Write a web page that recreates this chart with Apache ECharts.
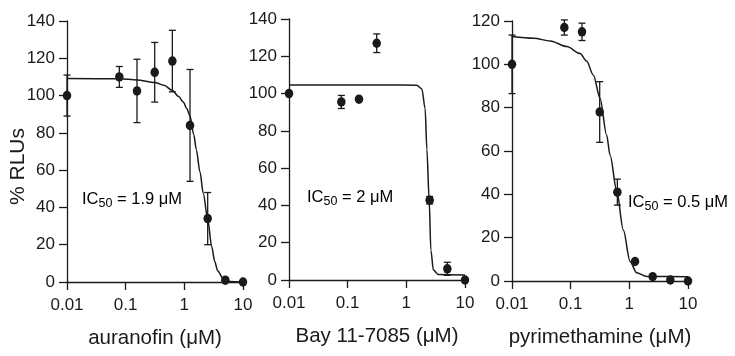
<!DOCTYPE html>
<html>
<head>
<meta charset="utf-8">
<script src="https://cdn.jsdelivr.net/npm/echarts@6/dist/echarts.min.js"></script>
<style>
  html, body { margin: 0; padding: 0; background: #fff; }
  #chart { width: 735px; height: 356px; }
</style>
</head>
<body>
<div id="chart"></div>
<script>
// concentrations (µM) for each drug
const concAll = [0.01, 0.078, 0.156, 0.3125, 0.625, 1.25, 2.5, 5, 10]
const concBay = [0.01, 0.078, 0.156, 0.3125, 2.5, 5, 10]

// % RLUs mean and +/- error
const auranofinMean = [100, 110, 102.5, 112.5, 118.5, 84, 34, 1, 0]
const auranofinErr = [11, 5.6, 17, 16, 16.5, 30, 14, 0, 0]
const bayMean = [100, 95.5, 97, 127, 42.8, 6, 0]
const bayErr = [0, 3.5, 0, 5, 2, 3.5, 0]
const pyriMean = [100, 117, 115, 78, 41, 9, 2, 0.5, 0]
const pyriErr = [13.5, 3.5, 4, 14, 6, 0, 0, 0, 0]

// fitted curves
const auranofinFitX = [0.01, 0.078, 0.156, 0.3125, 0.45, 0.625, 0.8, 0.96, 1.1, 1.25, 1.45, 1.6, 1.85, 2.1, 2.5, 2.93, 3.3, 3.7, 4.6, 6, 10]
const auranofinFitY = [109.2, 109, 108.4, 107, 105.5, 102.7, 99.5, 96.5, 93, 89, 79, 71, 59, 47.6, 33.7, 19, 11, 6, 1.8, 0.3, 0]
const bayFitX = [0.01, 0.5, 1.5, 1.84, 2.09, 2.24, 2.45, 2.62, 2.89, 3.5, 10]
const bayFitY = [104.6, 104.6, 104.5, 102.5, 92, 70, 43, 16, 5.3, 3, 2.7]
const pyriFitX = [0.01, 0.0234, 0.045, 0.086, 0.145, 0.187, 0.244, 0.317, 0.41, 0.47, 0.61, 0.79, 1.03, 1.33, 1.98, 10]
const pyriFitY = [112.8, 112, 110.8, 108.2, 105, 101.5, 95, 84.3, 67.4, 58, 41.5, 23.5, 9, 3.8, 2.1, 2]

const xNames = ['auranofin (μM)', 'Bay 11-7085 (μM)', 'pyrimethamine (μM)']
const yMax = [140, 140, 120]
const ic50Text = ['1.9 μM', '2 μM', '0.5 μM']

const FONT = "'Liberation Sans', Arial, sans-serif"
const INK = '#1a1a1a'

const zip = (a, b) => a.map((v, i) => [v, b[i]])
const errData = (x, m, e) => x.map((v, i) => [v, m[i] - e[i], m[i] + e[i], e[i]])

const panels = [
  { conc: concAll, mean: auranofinMean, err: auranofinErr, fx: auranofinFitX, fy: auranofinFitY },
  { conc: concBay, mean: bayMean, err: bayErr, fx: bayFitX, fy: bayFitY },
  { conc: concAll, mean: pyriMean, err: pyriErr, fx: pyriFitX, fy: pyriFitY }
]

const grids = [
  { left: 67, top: 21, width: 176, height: 261 },
  { left: 289, top: 19, width: 176, height: 261 },
  { left: 512, top: 21, width: 176, height: 260 }
]

function renderErr(params, api) {
  if (api.value(3) === 0) return
  const top = api.coord([api.value(0), api.value(2)])
  const bot = api.coord([api.value(0), api.value(1)])
  const cap = 3.5
  const style = { stroke: INK, lineWidth: 1.3 }
  return {
    type: 'group',
    children: [
      { type: 'line', shape: { x1: top[0], y1: top[1], x2: bot[0], y2: bot[1] }, style },
      { type: 'line', shape: { x1: top[0] - cap, y1: top[1], x2: top[0] + cap, y2: top[1] }, style },
      { type: 'line', shape: { x1: bot[0] - cap, y1: bot[1], x2: bot[0] + cap, y2: bot[1] }, style }
    ]
  }
}

const axisCommon = {
  axisLine: { lineStyle: { color: INK, width: 1.3 } },
  axisTick: { show: true, length: 8, lineStyle: { color: INK, width: 1.3 } },
  splitLine: { show: false }
}

const xAxis = grids.map((g, i) => Object.assign({}, axisCommon, {
  type: 'log',
  logBase: 10,
  gridIndex: i,
  min: 0.01,
  max: 10,
  name: xNames[i],
  nameLocation: 'middle',
  nameGap: 46,
  nameTextStyle: { color: INK, fontSize: 20.5, fontFamily: FONT },
  axisLabel: { color: INK, fontSize: 17, fontFamily: FONT, margin: 15 },
  minorTick: { show: false }
}))

const yAxis = grids.map((g, i) => Object.assign({}, axisCommon, {
  type: 'value',
  gridIndex: i,
  min: 0,
  max: yMax[i],
  interval: 20,
  axisLine: { show: true, lineStyle: { color: INK, width: 1.3 } },
  axisLabel: { color: INK, fontSize: 17, fontFamily: FONT, margin: 12 },
  name: i === 0 ? '% RLUs' : '',
  nameLocation: 'middle',
  nameGap: 38,
  nameMoveOverlap: false,
  nameTextStyle: { color: INK, fontSize: 21, fontFamily: FONT, padding: [0, 30, 0, 0] }
}))

const series = []
panels.forEach((p, i) => {
  series.push({
    type: 'line',
    xAxisIndex: i,
    yAxisIndex: i,
    data: zip(p.fx, p.fy),
    smooth: 0.3,
    smoothMonotone: 'x',
    showSymbol: false,
    lineStyle: { color: INK, width: 1.5 },
    silent: true,
    z: 2
  })
  series.push({
    type: 'custom',
    xAxisIndex: i,
    yAxisIndex: i,
    data: errData(p.conc, p.mean, p.err),
    encode: { x: 0, y: [1, 2] },
    renderItem: renderErr,
    silent: true,
    z: 3
  })
  series.push({
    type: 'scatter',
    xAxisIndex: i,
    yAxisIndex: i,
    data: zip(p.conc, p.mean),
    symbolSize: [8.5, 9.5],
    itemStyle: { color: INK, opacity: 1 },
    silent: true,
    z: 4
  })
})

const richIC = {
  a: { fontSize: 16.5, fontFamily: FONT, color: INK, lineHeight: 22 },
  s: { fontSize: 12.5, fontFamily: FONT, color: INK, lineHeight: 22, padding: [9, 0, 0, 0] }
}
const labelPos = [[82, 199], [307, 197], [628, 202]]
const graphic = labelPos.map((pos, i) => ({
  type: 'text',
  x: pos[0],
  y: pos[1],
  style: {
    text: '{a|IC}{s|50}{a| = ' + ic50Text[i] + '}',
    rich: richIC,
    verticalAlign: 'middle',
    align: 'left'
  }
}))

const chart = echarts.init(document.getElementById('chart'), null, { renderer: 'canvas' })
chart.setOption({
  backgroundColor: '#fff',
  animation: false,
  grid: grids,
  xAxis,
  yAxis,
  series,
  graphic
})
</script>
</body>
</html>
